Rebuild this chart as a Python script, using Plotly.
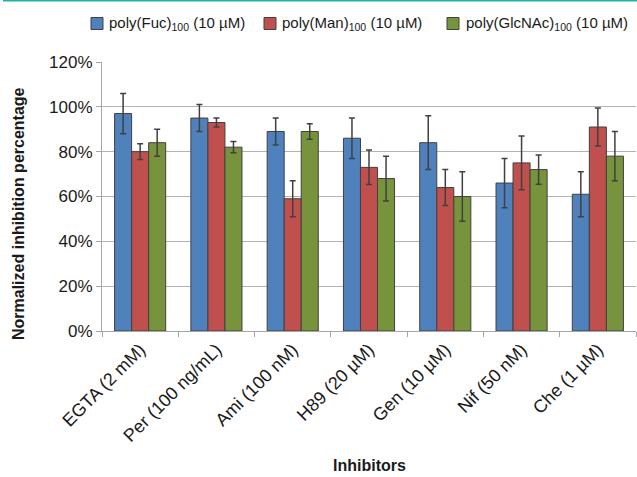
import plotly.graph_objects as go

categories = ["EGTA (2 mM)", "Per (100 ng/mL)", "Ami (100 nM)", "H89 (20 µM)",
              "Gen (10 µM)", "Nif (50 nM)", "Che (1 µM)"]
series_names = ["poly(Fuc)<sub>100</sub> (10 µM)",
                "poly(Man)<sub>100</sub> (10 µM)",
                "poly(GlcNAc)<sub>100</sub> (10 µM)"]
fuc_values = [0.97, 0.95, 0.89, 0.86, 0.84, 0.66, 0.61]
fuc_errors = [0.09, 0.06, 0.06, 0.09, 0.12, 0.11, 0.10]
man_values = [0.80, 0.93, 0.59, 0.73, 0.64, 0.75, 0.91]
man_errors = [0.035, 0.02, 0.08, 0.077, 0.08, 0.12, 0.085]
glc_values = [0.84, 0.82, 0.89, 0.68, 0.60, 0.72, 0.78]
glc_errors = [0.06, 0.025, 0.035, 0.10, 0.11, 0.065, 0.11]
colors = ["#4f81bd", "#c0504d", "#77933c"]
y_ticks = [0, 0.2, 0.4, 0.6, 0.8, 1.0, 1.2]

FONT = "Liberation Sans, Arial, sans-serif"

fig = go.Figure()
for name, vals, errs, col in zip(series_names,
                                 [fuc_values, man_values, glc_values],
                                 [fuc_errors, man_errors, glc_errors], colors):
    fig.add_trace(go.Bar(
        x=categories, y=vals, name=name, showlegend=False,
        marker=dict(color=col, line=dict(color="#404040", width=1)),
        error_y=dict(type="data", array=errs, visible=True,
                     color="#404040", thickness=1.5, width=3),
    ))

W, H = 637, 477
L, R, T, B = 102, 1, 62, 146
ph = H - T - B
pw = W - L - R


def px_x(x):
    return (x - L) / pw


def px_y(y):
    return (H - B - y) / ph


# manual legend (square left x in px, text left x in px)
legend_sq = [91, 264, 447]
legend_tx = [107, 280, 464]
legend_y = 23.5
shapes = [
    dict(type="line", xref="paper", yref="paper",
         x0=px_x(3), x1=px_x(W), y0=px_y(0.7), y1=px_y(0.7),
         line=dict(color="#22b0a8", width=1.5)),
]
annotations = []
for name, col, sx, tx in zip(series_names, colors, legend_sq, legend_tx):
    shapes.append(dict(type="rect", xref="paper", yref="paper",
                       x0=px_x(sx), x1=px_x(sx + 12),
                       y0=px_y(legend_y - 6), y1=px_y(legend_y + 6),
                       fillcolor=col, line=dict(color="#404040", width=1)))
    annotations.append(dict(text=name, xref="paper", yref="paper",
                            x=px_x(tx), y=px_y(legend_y), xanchor="left",
                            yanchor="middle", showarrow=False,
                            font=dict(size=15, family=FONT, color="#1a1a1a")))

annotations += [
    dict(text="<b>Inhibitors</b>", xref="paper", yref="paper",
         x=0.5, y=px_y(465), xanchor="center", yanchor="middle",
         showarrow=False, font=dict(size=16, family=FONT, color="#1a1a1a")),
    dict(text="<b>Normalized inhibition percentage</b>", xref="paper", yref="paper",
         x=px_x(18), y=px_y(214), xanchor="center", yanchor="middle",
         textangle=-90, showarrow=False,
         font=dict(size=16, family=FONT, color="#1a1a1a")),
]

fig.update_layout(
    width=W, height=H,
    margin=dict(l=L, r=R, t=T, b=B),
    paper_bgcolor="white", plot_bgcolor="white",
    barmode="group", bargap=0.33, bargroupgap=0,
    font=dict(family=FONT, color="#1a1a1a"),
    showlegend=False,
    xaxis=dict(
        type="category", showline=True, linecolor="#a6a6a6", linewidth=1,
        ticks="outside", tickson="boundaries", ticklen=5, tickcolor="#a6a6a6",
        tickangle=-45, tickfont=dict(size=18, family=FONT, color="#1a1a1a"),
        showgrid=False,
    ),
    yaxis=dict(
        range=[0, 1.2], tickvals=y_ticks, tickformat=".0%",
        showline=True, linecolor="#a6a6a6", linewidth=1,
        ticks="outside", ticklen=5, tickcolor="#a6a6a6",
        gridcolor="#b3b3b3", gridwidth=1,
        tickfont=dict(size=17, family=FONT, color="#1a1a1a"),
        zeroline=False,
    ),
    annotations=annotations,
    shapes=shapes,
)

fig.write_html("out.html", config={"displayModeBar": False},
               post_script="document.body.style.margin='0';document.body.style.overflow='hidden';")
